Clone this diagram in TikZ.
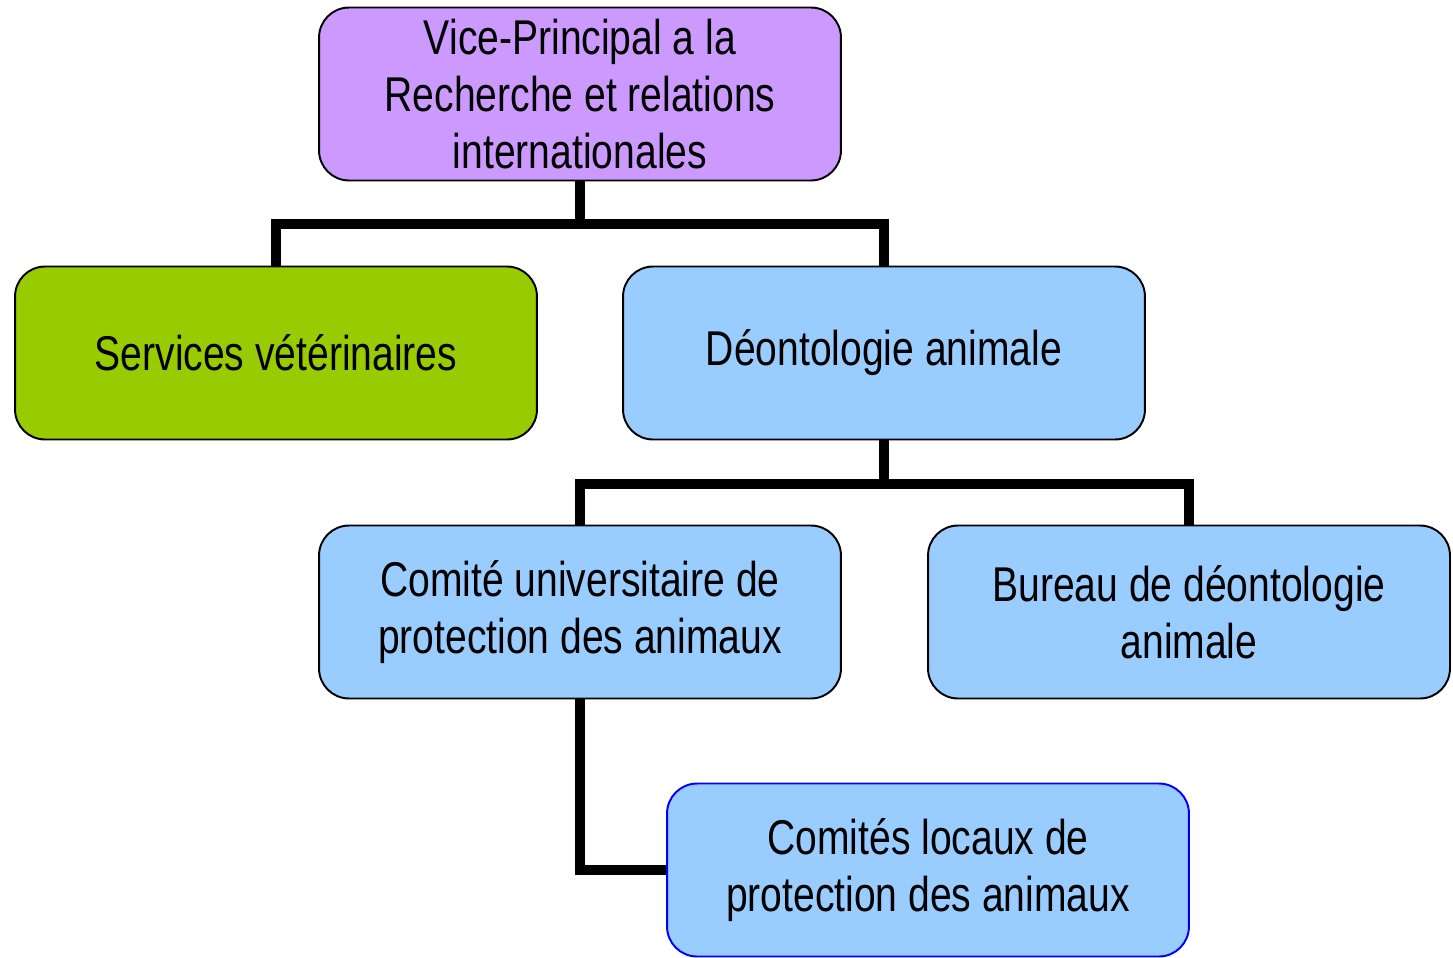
\documentclass[tikz,border=0pt]{standalone}
\usepackage{fontspec}
\setmainfont{Liberation Sans}[FakeStretch=0.8]
\definecolor{mauve}{HTML}{CC99FF}
\definecolor{vert}{HTML}{99CC00}
\definecolor{bleu}{HTML}{99CCFF}

\begin{document}
\begin{tikzpicture}[x=0.02cm,y=-0.02cm]
    \tikzstyle{unit}=[draw=black,line width=1.1pt,fill=bleu,rounded corners=0.6cm,
        minimum width=10.44cm,minimum height=3.46cm,align=center,inner sep=0pt,
        font=\fontsize{27.8}{32.6}\selectfont,execute at begin node={\vspace*{0.2cm}}]
    \tikzstyle{link}=[line width=5.7pt,line join=miter]
    \useasboundingbox (0,0) rectangle (1453,957);

    \node[unit,fill=mauve] (vp) at (580,94) {Vice-Principal a la\\Recherche et relations\\internationales};
    \node[unit,fill=vert] (serv) at (276,353) {Services vétérinaires};
    \node[unit] (deon) at (884,353) {Déontologie animale};
    \node[unit] (cu) at (580,612) {Comité universitaire de\\protection des animaux};
    \node[unit] (bur) at (1189,612) {Bureau de déontologie\\animale};
    \node[unit,draw=blue] (cl) at (928,870) {Comités locaux de\\protection des animaux};

    \draw[link] (vp.south) -- ++(0,43) coordinate (j-1);
    \draw[link] (serv.north) |- (j-1) -| (deon.north);
    \draw[link] (deon.south) -- ++(0,44) coordinate (j-2);
    \draw[link] (cu.north) |- (j-2) -| (bur.north);
    \draw[link] (cu.south) |- (cl.west);
\end{tikzpicture}
\end{document}
